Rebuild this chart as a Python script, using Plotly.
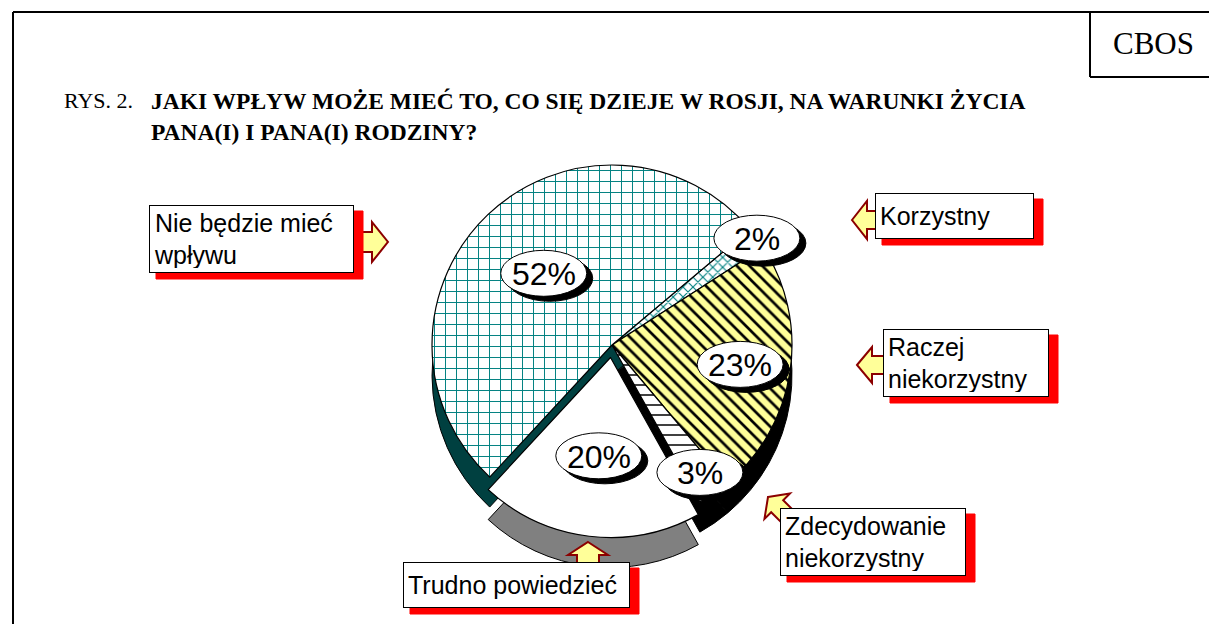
import math
import plotly.graph_objects as go

W, H = 1209, 624

# ---- data ----
categories = ["Korzystny", "Raczej niekorzystny", "Zdecydowanie niekorzystny",
              "Trudno powiedzieć", "Nie będzie mieć wpływu"]
values = [2, 23, 3, 20, 52]
pct_labels = ["2%", "23%", "3%", "20%", "52%"]
box_texts = ["Korzystny", "Raczej<br>niekorzystny", "Zdecydowanie<br>niekorzystny",
             "Trudno powiedzieć", "Nie będzie mieć<br>wpływu"]
pulls = [0, 0, 0, 0.07, 0]

# ---- styles ----
top_colors = ["#FFFFFF", "#FFFF99", "#FFFFFF", "#FFFFFF", "#FFFFFF"]
pattern_shapes = ["x", "\\", "-", "", "+"]
pattern_fg = ["#008080", "#000000", "#000000", "#000000", "#008080"]
pattern_size = [7, 9, 10, 10, 11]
pattern_sol = [0.3, 0.3, 0.15, 0.2, 0.17]
side_colors = ["#004040", "#000000", "#000000", "#808080", "#004040"]

ROT = 50
CX, CY, R = 612, 345, 180
DEPTH = 30
maxpull = max(pulls)
HALF = R * (1 + maxpull)


def px(x):
    return x / W


def py(y):
    return 1 - y / H


def dom(cy):
    return dict(x=[px(CX - HALF), px(CX + HALF)], y=[py(cy + HALF), py(cy - HALF)])


fig = go.Figure()

# side (depth) of the pie
fig.add_trace(go.Pie(
    labels=categories, values=values, sort=False, direction="clockwise",
    rotation=ROT, pull=pulls, domain=dom(CY + DEPTH), textinfo="none",
    hoverinfo="skip", showlegend=False,
    marker=dict(colors=side_colors, line=dict(color="#000000", width=1)),
))

# top face
fig.add_trace(go.Pie(
    labels=categories, values=values, sort=False, direction="clockwise",
    rotation=ROT, pull=pulls, domain=dom(CY), textinfo="none",
    hoverinfo="label+percent", showlegend=False,
    marker=dict(colors=top_colors, line=dict(color="#000000", width=1.2),
                pattern=dict(shape=pattern_shapes, fgcolor=pattern_fg,
                             bgcolor=top_colors, size=pattern_size,
                             solidity=pattern_sol, fillmode="replace")),
))

shapes = []
annotations = []

# frame
LN = dict(color="black", width=2)
shapes.append(dict(type="line", xref="paper", yref="paper", x0=px(13), x1=px(1209),
                   y0=py(12), y1=py(12), line=LN))
shapes.append(dict(type="line", xref="paper", yref="paper", x0=px(13), x1=px(13),
                   y0=py(12), y1=py(624), line=LN))
shapes.append(dict(type="line", xref="paper", yref="paper", x0=px(1090), x1=px(1090),
                   y0=py(12), y1=py(77), line=LN))
shapes.append(dict(type="line", xref="paper", yref="paper", x0=px(1090), x1=px(1209),
                   y0=py(77), y1=py(77), line=LN))


def text_ann(x, y, text, size, family, xanchor="center"):
    return dict(x=px(x), y=py(y), xref="paper", yref="paper", text=text,
                xanchor=xanchor, yanchor="middle", showarrow=False,
                font=dict(family=family, size=size, color="black"))


annotations.append(text_ann(1153, 44, "CBOS", 31, "Liberation Serif"))
annotations.append(text_ann(62, 101, "RYS. 2.", 22, "Liberation Serif", "left"))
annotations.append(text_ann(149, 101,
                            "<b>JAKI WPŁYW MOŻE MIEĆ TO, CO SIĘ DZIEJE W ROSJI, NA WARUNKI ŻYCIA</b>",
                            23.5, "Liberation Serif", "left"))
annotations.append(text_ann(149, 132, "<b>PANA(I) I PANA(I) RODZINY?</b>",
                            23.5, "Liberation Serif", "left"))

# percentage ovals, placed at each slice's mid-angle
label_rad = [1.0, 0.72, 0.86, 0.55, 0.55]
total = sum(values)
cum = 0
OW, OH = 86, 46
for v, lab, fr, pl in zip(values, pct_labels, label_rad, pulls):
    mid = math.radians(ROT + (cum + v / 2) / total * 360)
    cum += v
    r = R * fr + pl * R
    x = CX + r * math.sin(mid)
    y = CY - r * math.cos(mid)
    shapes.append(dict(type="circle", xref="paper", yref="paper",
                       x0=px(x - OW / 2 + 6), x1=px(x + OW / 2 + 6),
                       y0=py(y + OH / 2 + 5), y1=py(y - OH / 2 + 5),
                       fillcolor="black", line=dict(color="black", width=1)))
    shapes.append(dict(type="circle", xref="paper", yref="paper",
                       x0=px(x - OW / 2), x1=px(x + OW / 2),
                       y0=py(y + OH / 2), y1=py(y - OH / 2),
                       fillcolor="white", line=dict(color="black", width=1)))
    annotations.append(text_ann(x, y + 1, lab, 32, "Liberation Sans"))


# block arrows
def block_arrow(tip, ang, length, head_len, head_w, shaft_w):
    ux, uy = math.cos(math.radians(ang)), math.sin(math.radians(ang))
    nx, ny = -uy, ux
    tx, ty = tip
    hx, hy = tx - ux * head_len, ty - uy * head_len
    bx, by = tx - ux * length, ty - uy * length
    pts = [
        (tx, ty),
        (hx + nx * head_w / 2, hy + ny * head_w / 2),
        (hx + nx * shaft_w / 2, hy + ny * shaft_w / 2),
        (bx + nx * shaft_w / 2, by + ny * shaft_w / 2),
        (bx - nx * shaft_w / 2, by - ny * shaft_w / 2),
        (hx - nx * shaft_w / 2, hy - ny * shaft_w / 2),
        (hx - nx * head_w / 2, hy - ny * head_w / 2),
    ]
    path = "M " + " L ".join(f"{px(a):.5f},{py(b):.5f}" for a, b in pts) + " Z"
    return dict(type="path", xref="paper", yref="paper", path=path,
                fillcolor="#FFFF99", line=dict(color="#8B0000", width=2))


shapes.append(block_arrow((388, 242), 0, 38, 16, 40, 20))
shapes.append(block_arrow((852, 220), 180, 28, 15, 38, 18))
shapes.append(block_arrow((857, 365), 180, 30, 15, 36, 18))
shapes.append(block_arrow((768, 497), 225, 32, 13, 36, 17))
shapes.append(block_arrow((588, 542), 270, 24, 13, 40, 22))

# label boxes (x, y, w, h) with red drop shadows
boxes = [(875, 193, 161, 46), (883, 329, 168, 68), (780, 508, 188, 68),
         (403, 562, 229, 46), (149, 205, 207, 68)]
for txt, (bx, by, bw, bh) in zip(box_texts, boxes):
    shapes.append(dict(type="rect", xref="paper", yref="paper",
                       x0=px(bx + 7), x1=px(bx + bw + 7), y0=py(by + bh + 6), y1=py(by + 6),
                       fillcolor="red", line=dict(color="red", width=1)))
    annotations.append(dict(
        x=px(bx), y=py(by), xref="paper", yref="paper", xanchor="left", yanchor="top",
        text=txt, showarrow=False, align="left", valign="middle",
        width=bw - 12, height=bh - 10, borderpad=4, borderwidth=1,
        bordercolor="black", bgcolor="white",
        font=dict(family="Liberation Sans", size=25, color="black")))

fig.update_layout(
    width=W, height=H, margin=dict(l=0, r=0, t=0, b=0),
    paper_bgcolor="white", plot_bgcolor="white",
    shapes=shapes, annotations=annotations,
)

fig.write_html("out.html", config={"displayModeBar": False},
               post_script="document.body.style.margin='0px';")
